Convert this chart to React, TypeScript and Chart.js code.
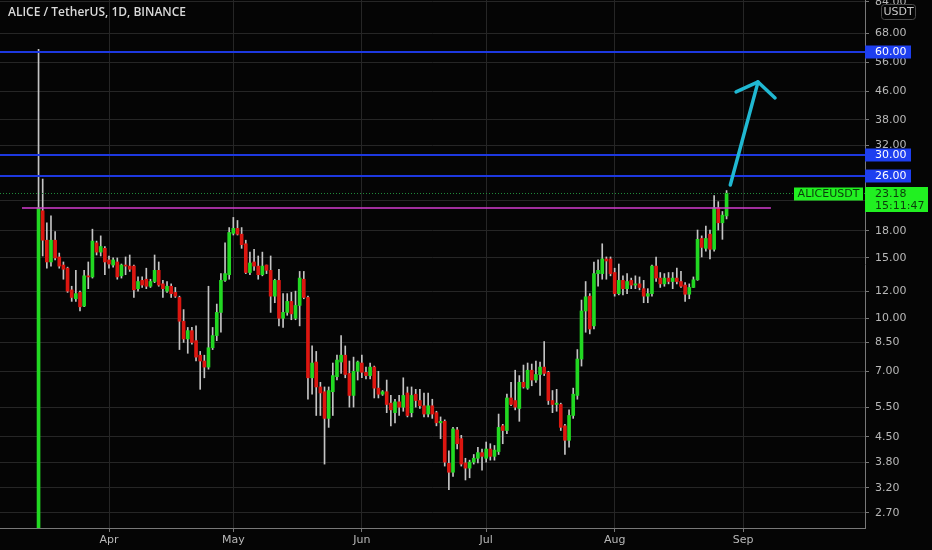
import React, { useEffect, useRef } from "react";
import { Chart, registerables } from "chart.js";

Chart.register(...registerables);

// daily candles, ALICE/USDT on Binance, first candle 2021-03-15
const startDate = "2021-03-15";
const openPrices = [
  2.0, 20.6, 16.9, 14.6, 16.9, 15.1, 14.3, 14.0, 12.1, 11.4, 11.9, 10.85, 13.3, 13.2, 16.6, 15.6, 16.0,
  14.8, 14.3, 14.6, 13.3, 14.3, 14.2, 14.2, 12.2, 12.9, 13.0, 12.4, 12.8, 13.8, 12.6, 12.0, 12.4, 11.9,
  11.5, 9.8, 8.7, 9.2, 8.6, 7.8, 7.5, 7.2, 8.2, 8.9, 10.4, 12.9, 13.4,
  17.7, 18.3, 17.6, 16.5, 13.6, 14.6, 14.2, 13.4, 14.3, 13.8, 11.6, 12.9, 10.0, 10.4, 11.2, 10.0, 10.9,
  13.0, 11.5, 6.7, 7.45, 6.3, 6.1, 5.1, 6.1, 6.75, 7.45, 7.8, 6.9, 5.95, 7.0,
  7.4, 6.95, 6.8, 7.2, 6.25, 6.0, 6.1, 5.65, 5.3, 5.7, 5.5, 6.05, 5.3, 6.0, 5.75, 5.55, 5.25, 5.55, 5.3,
  4.95, 5.0, 3.77, 3.55, 4.72, 4.45, 3.78, 3.65, 3.8, 3.9, 4.05,
  3.9, 4.15, 3.95, 4.08, 4.85, 4.7, 5.85, 5.75, 5.45, 6.5, 6.25, 7.05, 6.6, 6.85, 7.2, 6.95, 5.75, 5.6,
  5.6, 4.85, 4.4, 5.2, 5.95, 7.6, 10.5, 11.6, 9.5, 13.5, 13.5, 14.9, 14.9,
  13.6, 11.8, 12.9, 12.2, 12.9, 12.5, 12.6, 12.2, 11.6, 11.8, 14.2, 13.1, 12.6, 13.1, 12.8, 13.1, 12.8,
  12.5, 11.75, 12.3, 12.95, 17.1, 16.0, 17.6, 15.9, 21.0, 19.0, 19.9,
];
const highPrices = [
  61, 25.5, 19.0, 19.9, 17.9, 15.5, 14.6, 14.1, 12.4, 13.8, 12.0, 13.8, 14.6, 18.2, 16.8, 17.4, 16.2,
  15.2, 15.0, 15.0, 14.4, 15.1, 15.3, 14.3, 13.2, 13.2, 14.0, 13.0, 15.3, 14.6, 12.9, 12.8, 12.6, 12.3,
  11.6, 10.6, 9.4, 9.4, 9.5, 8.0, 7.8, 12.4, 9.4, 11.0, 13.5, 16.6, 18.4,
  19.7, 19.3, 18.4, 16.9, 15.6, 15.9, 15.2, 15.6, 14.3, 15.2, 13.0, 13.9, 11.8, 11.8, 11.9, 12.0, 13.7,
  13.7, 11.6, 8.3, 8.0, 6.5, 6.3, 6.3, 7.4, 7.8, 8.9, 8.3, 7.5, 7.7, 7.5,
  7.8, 7.2, 7.4, 7.25, 7.0, 6.15, 6.6, 5.95, 5.8, 5.95, 6.7, 6.3, 6.3, 6.2, 6.2, 6.05, 6.05, 5.8, 5.35,
  5.15, 5.05, 4.1, 4.8, 4.8, 4.55, 3.9, 3.85, 4.0, 4.2, 4.15,
  4.35, 4.3, 4.25, 5.25, 4.9, 6.0, 6.5, 7.05, 6.8, 7.3, 7.4, 7.35, 7.5, 7.45, 8.55, 7.0, 6.15,
  6.2, 5.65, 4.9, 5.4, 6.25, 8.1, 11.3, 12.8, 11.8, 14.6, 14.8, 16.5, 15.1, 15.1,
  14.0, 14.4, 13.3, 13.5, 13.1, 13.3, 13.2, 12.9, 12.2, 14.3, 15.1, 13.6, 13.5, 13.6, 13.6, 14.0, 13.7,
  12.7, 12.6, 13.2, 18.1, 17.4, 18.6, 18.1, 22.8, 21.9, 20.5, 23.6,
];
const lowPrices = [
  2.0, 15.2, 14.0, 14.2, 14.8, 14.0, 13.0, 11.9, 11.2, 11.2, 10.5, 10.8, 12.2, 13.1, 15.3, 15.2, 13.4,
  14.0, 14.1, 13.0, 13.1, 13.4, 13.7, 11.5, 12.0, 12.3, 12.2, 12.3, 12.7, 12.4, 11.5, 11.9, 11.5, 11.5,
  8.1, 8.5, 7.9, 8.4, 7.5, 6.2, 6.7, 7.1, 8.1, 8.6, 9.1, 12.8, 13.0,
  17.5, 17.5, 16.0, 13.5, 13.4, 13.8, 13.0, 13.3, 13.5, 10.4, 11.1, 9.5, 9.4, 10.2, 9.9, 9.9, 9.5,
  11.4, 5.8, 6.0, 5.2, 5.2, 3.75, 4.8, 5.2, 6.6, 6.9, 6.7, 5.5, 5.5, 6.6,
  6.7, 6.65, 6.65, 5.85, 5.85, 5.95, 5.3, 4.85, 4.95, 5.2, 5.35, 5.15, 5.15, 5.5, 5.45, 5.15, 5.15, 5.1, 4.85,
  4.45, 3.7, 3.16, 3.45, 4.15, 3.7, 3.37, 3.42, 3.75, 3.78, 3.6,
  3.8, 3.85, 3.85, 4.0, 4.3, 4.6, 5.55, 5.4, 5.0, 6.25, 6.2, 6.35, 6.5, 5.95, 6.8, 5.6, 5.3,
  5.35, 4.7, 4.0, 4.2, 5.1, 5.8, 7.25, 9.1, 9.0, 9.3, 12.4, 13.0, 13.0, 13.3,
  11.6, 11.7, 11.7, 11.8, 12.2, 12.2, 12.1, 11.1, 11.1, 11.6, 12.8, 12.3, 12.4, 12.6, 12.2, 12.6, 12.3,
  11.2, 11.4, 12.3, 12.9, 15.1, 15.7, 14.9, 15.7, 18.1, 17.0, 19.5,
];
const closePrices = [
  21.0, 16.9, 14.6, 16.9, 15.0, 14.2, 13.9, 12.0, 11.5, 11.8, 10.8, 13.3, 13.2, 16.8, 15.6, 16.2, 14.6,
  14.4, 14.8, 13.2, 14.3, 14.2, 13.9, 12.1, 12.8, 12.5, 12.4, 12.8, 13.8, 12.5, 12.2, 12.4, 11.8, 11.6,
  9.8, 8.7, 9.2, 8.5, 7.7, 7.5, 7.2, 8.2, 8.9, 10.4, 12.9, 13.5, 17.8,
  18.3, 17.6, 16.4, 13.6, 14.5, 14.2, 13.4, 14.2, 13.8, 11.6, 12.9, 10.0, 10.4, 11.2, 10.3, 10.9, 13.1,
  11.5, 6.7, 7.4, 6.3, 6.05, 5.1, 6.15, 6.8, 7.55, 7.8, 6.85, 5.95, 7.0, 7.45,
  6.95, 6.8, 7.2, 6.25, 6.0, 6.1, 5.6, 5.4, 5.7, 5.5, 5.95, 5.2, 5.95, 5.75, 5.55, 5.25, 5.55, 5.25, 4.95,
  5.0, 3.8, 3.55, 4.75, 4.3, 3.75, 3.65, 3.8, 3.9, 4.05, 3.95,
  4.15, 3.95, 4.12, 4.8, 4.7, 5.85, 5.6, 5.5, 6.5, 6.3, 7.05, 6.6, 6.85, 7.2, 6.9, 5.75, 5.6,
  5.65, 4.8, 4.4, 5.2, 6.0, 7.6, 10.5, 11.55, 9.3, 13.5, 13.8, 14.9, 14.7, 13.5,
  11.8, 12.9, 12.2, 12.8, 12.5, 12.6, 12.3, 11.6, 11.8, 14.2, 13.1, 12.6, 13.1, 12.8, 13.1, 12.8, 12.4,
  11.75, 12.3, 12.95, 17.0, 16.1, 17.1, 15.9, 21.0, 19.0, 20.0, 23.18,
];

const priceTicks = [84, 68, 56, 46, 38, 32, 26, 22, 18, 15, 12, 10, 8.5, 7, 5.5, 4.5, 3.8, 3.2, 2.7];
const monthStarts = ["2021-04-01", "2021-05-01", "2021-06-01", "2021-07-01", "2021-08-01", "2021-09-01"];
const monthLabels = ["Apr", "May", "Jun", "Jul", "Aug", "Sep"];

// drawings on the chart
const levelLines = [60, 30, 26];
const necklinePrice = 21.0;
const necklineFrom = -4;
const necklineTo = 176.7;
const lastPrice = 23.18;
const countdown = "15:11:47";
const symbol = "ALICEUSDT";
const arrowTail = [166.9, 24.5];
const arrowTip = [173.6, 49];
const arrowWings = [
  [168.3, 45.8],
  [177.7, 44.0],
];

const dayIndex = (iso: string) => Math.round((Date.parse(iso) - Date.parse(startDate)) / 86400000);
const monthTickDays = monthStarts.map(dayIndex);

const GREEN = "#22d822";
const RED = "#dc1610";
const BLUE = "#1e3ff0";
const AXIS = "#787878";
const TEXT = "#b8b8b8";
const FONT = "DejaVu Sans";

const overlayPlugin = {
  id: "overlay",
  beforeDraw(chart: any) {
    const { ctx, width, height } = chart;
    ctx.save();
    ctx.fillStyle = "#050505";
    ctx.fillRect(0, 0, width, height);
    ctx.restore();
  },
  afterDraw(chart: any) {
    const { ctx, chartArea } = chart;
    const x = chart.scales.x;
    const y = chart.scales.y;
    const px = (d: number) => x.getPixelForValue(d);
    const py = (v: number) => y.getPixelForValue(v);
    ctx.save();

    // last price dotted line
    const lp = Math.round(py(lastPrice)) + 0.5;
    ctx.strokeStyle = "#1f8a3a";
    ctx.lineWidth = 1;
    ctx.setLineDash([1, 2]);
    ctx.beginPath();
    ctx.moveTo(chartArea.left, lp);
    ctx.lineTo(chartArea.right, lp);
    ctx.stroke();
    ctx.setLineDash([]);

    // horizontal levels
    ctx.strokeStyle = "#1d38e0";
    ctx.lineWidth = 2;
    levelLines.forEach((v) => {
      const yy = Math.round(py(v));
      ctx.beginPath();
      ctx.moveTo(chartArea.left, yy);
      ctx.lineTo(chartArea.right, yy);
      ctx.stroke();
    });

    // neckline
    ctx.strokeStyle = "#d43cd0";
    ctx.lineWidth = 1.5;
    const ny = Math.round(py(necklinePrice));
    ctx.beginPath();
    ctx.moveTo(px(necklineFrom), ny);
    ctx.lineTo(px(necklineTo), ny);
    ctx.stroke();

    // arrow
    ctx.strokeStyle = "#20b8d2";
    ctx.lineWidth = 3.5;
    ctx.lineCap = "round";
    ctx.lineJoin = "round";
    const tx = px(arrowTip[0]);
    const ty = py(arrowTip[1]);
    ctx.beginPath();
    ctx.moveTo(px(arrowTail[0]), py(arrowTail[1]));
    ctx.lineTo(tx, ty);
    ctx.stroke();
    ctx.beginPath();
    ctx.moveTo(px(arrowWings[0][0]), py(arrowWings[0][1]));
    ctx.lineTo(tx, ty);
    ctx.lineTo(px(arrowWings[1][0]), py(arrowWings[1][1]));
    ctx.stroke();
    ctx.lineCap = "butt";

    // title
    ctx.font = `600 12px "Open Sans"`;
    ctx.fillStyle = "#dadada";
    ctx.textBaseline = "middle";
    ctx.textAlign = "left";
    ctx.fillText("ALICE / TetherUS, 1D, BINANCE", 8, 13);

    // level labels on the price axis
    ctx.font = `11px ${FONT}`;
    levelLines.forEach((v) => {
      const yy = Math.round(py(v));
      ctx.fillStyle = BLUE;
      ctx.fillRect(chartArea.right, yy - 6.5, 46, 13);
      ctx.fillStyle = "#ffffff";
      ctx.fillText(v.toFixed(2), chartArea.right + 10, yy + 0.5);
    });

    // last price labels
    ctx.fillStyle = "#21f021";
    ctx.fillRect(chartArea.right, lp - 6.5, 63, 25);
    ctx.fillRect(chartArea.right - 71, lp - 6, 69, 13);
    ctx.fillStyle = "#0c3d0c";
    ctx.fillText(lastPrice.toFixed(2), chartArea.right + 10, lp + 0.5);
    ctx.fillText(countdown, chartArea.right + 10, lp + 12.5);
    ctx.textAlign = "center";
    ctx.fillText(symbol, chartArea.right - 36.5, lp + 0.5);

    // currency badge
    ctx.strokeStyle = "#4a4a4a";
    ctx.lineWidth = 1;
    ctx.beginPath();
    ctx.roundRect(881.5, 4.5, 34, 15, 3);
    ctx.stroke();
    ctx.fillStyle = "#c8c8c8";
    ctx.fillText("USDT", 898.5, 12.5);

    ctx.restore();
  },
};

const App = () => {
  const canvasRef = useRef<HTMLCanvasElement>(null);
  const chartRef = useRef<any>(null);

  useEffect(() => {
    if (!canvasRef.current) return;
    if (chartRef.current) chartRef.current.destroy();

    const days = openPrices.map((_, i) => i);
    const bodies = days.map((i) => ({ x: i, y: [openPrices[i], closePrices[i]] }));
    const wicks = days.map((i) => ({ x: i, y: [lowPrices[i], highPrices[i]] }));
    const bodyColors = days.map((i) => (closePrices[i] >= openPrices[i] ? GREEN : RED));

    chartRef.current = new Chart(canvasRef.current, {
      type: "bar",
      data: {
        datasets: [
          {
            data: bodies as any,
            backgroundColor: bodyColors,
            barThickness: 3,
            minBarLength: 1,
            grouped: false,
          },
          {
            data: wicks as any,
            backgroundColor: "#c4c4c4",
            barThickness: 1,
            grouped: false,
          },
        ],
      },
      options: {
        animation: false,
        responsive: true,
        maintainAspectRatio: false,
        layout: { padding: 0 },
        plugins: { legend: { display: false }, tooltip: { enabled: false } },
        scales: {
          x: {
            type: "linear",
            min: -9.3,
            max: 199.4,
            offset: false,
            grid: { offset: false, color: "#262626", tickColor: AXIS, tickLength: 4 },
            border: { color: AXIS, width: 1 },
            afterBuildTicks: (scale: any) => {
              scale.ticks = monthTickDays.map((d) => ({ value: d }));
            },
            afterFit: (scale: any) => {
              scale.height = 22;
              scale.paddingLeft = 0;
              scale.paddingRight = 0;
            },
            ticks: {
              autoSkip: false,
              maxRotation: 0,
              padding: 2,
              color: TEXT,
              font: { family: FONT, size: 11 },
              callback: (v: any) => monthLabels[monthTickDays.indexOf(Number(v))] ?? "",
            },
          },
          y: {
            type: "logarithmic",
            position: "right",
            min: 2.44,
            max: 85,
            grid: { color: "#262626", tickColor: AXIS, tickLength: 4 },
            border: { color: AXIS, width: 1 },
            afterBuildTicks: (scale: any) => {
              scale.ticks = priceTicks.map((v) => ({ value: v }));
            },
            afterFit: (scale: any) => {
              scale.width = 67;
              scale.paddingTop = 0;
              scale.paddingBottom = 0;
            },
            ticks: {
              autoSkip: false,
              padding: 6,
              color: TEXT,
              font: { family: FONT, size: 11 },
              callback: (v: any) => Number(v).toFixed(2),
            },
          },
        },
      },
      plugins: [overlayPlugin],
    });

    return () => {
      if (chartRef.current) {
        chartRef.current.destroy();
        chartRef.current = null;
      }
    };
  }, []);

  return (
    <div style={{ position: "fixed", left: 0, top: 0, width: 932, height: 550 }}>
      <canvas ref={canvasRef} />
    </div>
  );
};

export default App;
